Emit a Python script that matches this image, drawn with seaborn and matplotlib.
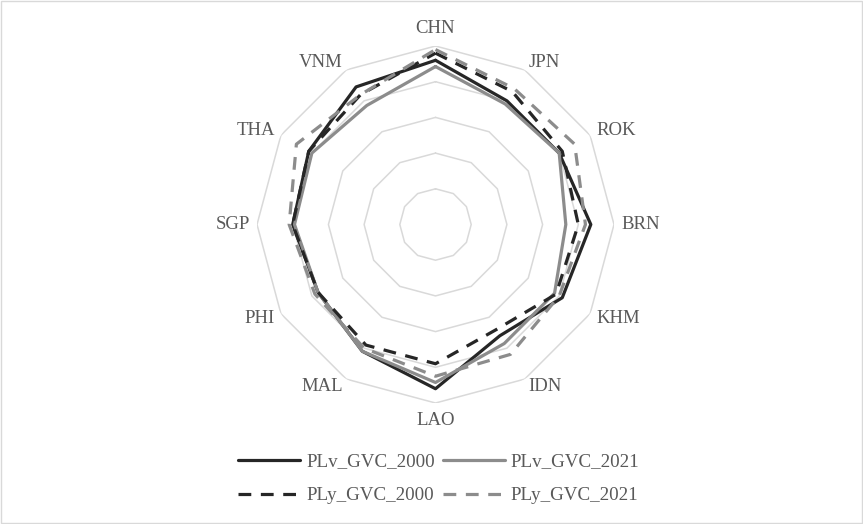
import numpy as np
import pandas as pd
import seaborn as sns
import matplotlib.pyplot as plt
from matplotlib.patches import Rectangle

countries = ["CHN", "JPN", "ROK", "BRN", "KHM", "IDN", "LAO", "MAL", "PHI", "SGP", "THA", "VNM"]
plv_2000 = [0.92, 0.80, 0.80, 0.87, 0.82, 0.72, 0.92, 0.82, 0.76, 0.80, 0.82, 0.89]
plv_2021 = [0.885, 0.78, 0.80, 0.73, 0.77, 0.77, 0.885, 0.82, 0.76, 0.79, 0.80, 0.77]
ply_2000 = [0.96, 0.86, 0.82, 0.80, 0.78, 0.68, 0.78, 0.78, 0.76, 0.80, 0.82, 0.84]
ply_2021 = [0.98, 0.88, 0.90, 0.84, 0.80, 0.84, 0.85, 0.80, 0.78, 0.82, 0.90, 0.84]
series_names = ["PLv_GVC_2000", "PLv_GVC_2021", "PLy_GVC_2000", "PLy_GVC_2021"]
grid_levels = [0.2, 0.4, 0.6, 0.8, 1.0]

sns.set_theme(style="white")
plt.rcParams['font.family'] = ['Liberation Serif', 'DejaVu Serif']

n = len(countries)
angles = np.linspace(0, 2 * np.pi, n, endpoint=False)
closed = np.append(angles, 2 * np.pi)

rows = []
for name, vals in zip(series_names, [plv_2000, plv_2021, ply_2000, ply_2021]):
    for a, v in zip(closed, vals + vals[:1]):
        rows.append({"angle": a, "value": v, "series": name})
df = pd.DataFrame(rows)

fig = plt.figure(figsize=(8.63, 5.24), dpi=100)
ax = fig.add_axes([0.2978, 0.2309, 0.4137, 0.6813], projection="polar")
ax.set_theta_zero_location("N")
ax.set_theta_direction(-1)

# polygon grid
for lv in grid_levels:
    ax.plot(closed, [lv] * (n + 1), color="#d9d9d9", lw=1.1, zorder=1)

palette = {"PLv_GVC_2000": "#262626", "PLv_GVC_2021": "#8c8c8c",
           "PLy_GVC_2000": "#262626", "PLy_GVC_2021": "#8c8c8c"}
dashes = {"PLv_GVC_2000": "", "PLv_GVC_2021": "",
          "PLy_GVC_2000": (4, 3), "PLy_GVC_2021": (4, 3)}
sns.lineplot(data=df, x="angle", y="value", hue="series", style="series",
             palette=palette, dashes=dashes, sort=False, estimator=None,
             linewidth=2.3, ax=ax, legend=False, zorder=3)

ax.set_ylim(0, 1)
ax.grid(False)
ax.spines["polar"].set_visible(False)
ax.set_xticks([])
ax.set_yticks([])
ax.set_xlabel("")
ax.set_ylabel("")
ax.patch.set_alpha(0)

for a, lab in zip(angles, countries):
    dx, dy = np.sin(a), np.cos(a)
    if abs(dx) < 0.1:
        ha = "center"
        va = "bottom" if dy > 0 else "top"
    else:
        ha = "left" if dx > 0 else "right"
        va = "center"
    ax.annotate(lab, xy=(a, 1.0), xytext=(5 * dx, 6.5 * dy), textcoords="offset points",
                ha=ha, va=va, fontsize=13.5, color="#595959")

lines = ax.get_lines()[len(grid_levels):]
order = [0, 2, 1, 3]
fig.legend([lines[i] for i in order], [series_names[i] for i in order],
           loc="center", bbox_to_anchor=(0.5087, 0.0865),
           ncol=2, frameon=False, fontsize=13.7, handlelength=3.25, handletextpad=0.3,
           columnspacing=0.45, labelspacing=0.88, labelcolor="#595959")

fig.add_artist(Rectangle((0.001, 0.001), 0.998, 0.997, transform=fig.transFigure,
                         fill=False, edgecolor="#d9d9d9", lw=1))

fig.savefig("out.png", dpi=100)
